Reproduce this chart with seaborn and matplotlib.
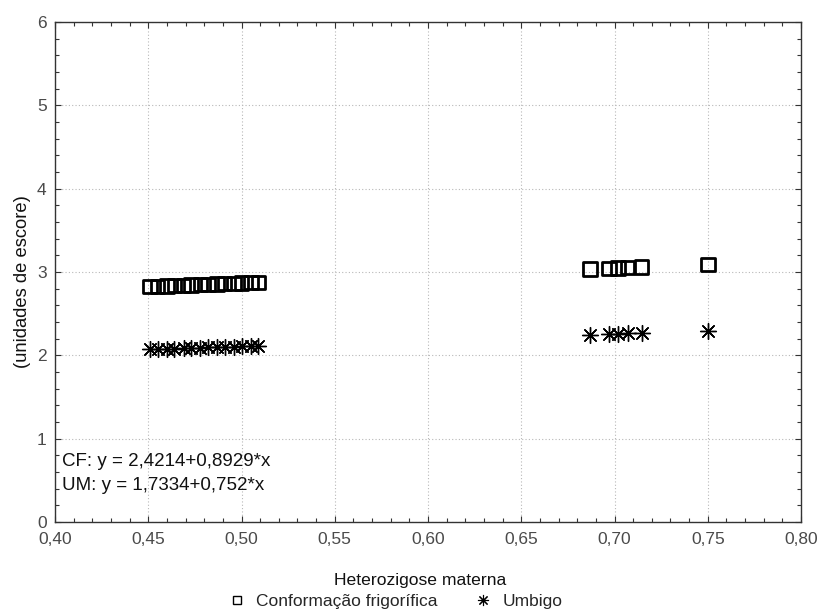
import matplotlib
matplotlib.use("Agg")
import matplotlib.pyplot as plt
from matplotlib.lines import Line2D
from matplotlib.ticker import MultipleLocator, FuncFormatter
import seaborn as sns
import pandas as pd

# ---- data ----
het_x = [0.451, 0.455, 0.460, 0.464, 0.469, 0.473, 0.478, 0.482, 0.487,
         0.491, 0.496, 0.500, 0.505, 0.509,
         0.687, 0.697, 0.702, 0.707, 0.7145, 0.750]
cf_y = [2.824, 2.828, 2.832, 2.836, 2.840, 2.844, 2.848, 2.852, 2.856,
        2.860, 2.864, 2.868, 2.872, 2.876,
        3.035, 3.044, 3.048, 3.053, 3.059, 3.091]
um_y = [2.072, 2.076, 2.079, 2.082, 2.086, 2.089, 2.093, 2.096, 2.100,
        2.103, 2.106, 2.110, 2.113, 2.116,
        2.250, 2.258, 2.261, 2.265, 2.271, 2.297]
series_names = ["Conformação frigorífica", "Umbigo"]
eq_texts = ["CF: y = 2,4214+0,8929*x", "UM: y = 1,7334+0,752*x"]
x_label = "Heterozigose materna"
y_label = "(unidades de escore)"

df = pd.DataFrame({
    "x": het_x + het_x,
    "y": cf_y + um_y,
    "serie": [series_names[0]] * len(het_x) + [series_names[1]] * len(het_x),
})

sns.set_style("white")
plt.rcParams["font.family"] = ["Liberation Sans", "DejaVu Sans"]

fig = plt.figure(figsize=(8.17, 6.14), dpi=100)
ax = fig.add_axes([55 / 817, 1 - 522 / 614, (801 - 55) / 817, 500 / 614])

asterisk = (8, 2, 0)
sns.scatterplot(data=df[df.serie == series_names[0]], x="x", y="y", ax=ax,
                marker="s", s=95, facecolor="none", edgecolor="black",
                linewidth=2.0, legend=False, zorder=3)
sns.scatterplot(data=df[df.serie == series_names[1]], x="x", y="y", ax=ax,
                marker=asterisk, s=130, color="black", edgecolor="black",
                linewidth=1.0, legend=False, zorder=3)

ax.set_xlim(0.40, 0.80)
ax.set_ylim(0, 6)
ax.xaxis.set_major_locator(MultipleLocator(0.05))
ax.xaxis.set_minor_locator(MultipleLocator(0.01))
ax.yaxis.set_major_locator(MultipleLocator(1))
ax.yaxis.set_minor_locator(MultipleLocator(0.2))
ax.xaxis.set_major_formatter(FuncFormatter(lambda v, p: f"{v:.2f}".replace(".", ",")))
ax.yaxis.set_major_formatter(FuncFormatter(lambda v, p: f"{v:.0f}"))

ax.grid(True, which="major", linestyle=(0, (1, 2)), color="#b8b8b8", linewidth=0.8)
ax.tick_params(which="both", direction="in", top=True, right=True,
               bottom=True, left=True, color="#333333")
ax.tick_params(axis="x", which="major", pad=7)
ax.tick_params(axis="y", which="major", pad=6)
ax.tick_params(which="major", length=4, width=0.8, labelsize=12.5,
               labelcolor="#4a4a4a")
ax.tick_params(which="minor", length=3, width=0.8)
for sp in ax.spines.values():
    sp.set_color("#333333")
    sp.set_linewidth(1.0)

ax.set_xlabel(x_label, fontsize=12.6, color="#111111", labelpad=19)
ax.set_ylabel(y_label, fontsize=13.2, color="#111111", labelpad=4)
ax.xaxis.label.set_x(0.49)
ax.yaxis.label.set_y(0.48)

ax.text(0.009, 0.12, eq_texts[0], transform=ax.transAxes, fontsize=13.5,
        color="#111111", va="center")
ax.text(0.009, 0.074, eq_texts[1], transform=ax.transAxes, fontsize=13.5,
        color="#111111", va="center")

handles = [
    Line2D([], [], linestyle="none", marker="s", markersize=6, markerfacecolor="none",
           markeredgecolor="black", markeredgewidth=1.0),
    Line2D([], [], linestyle="none", marker=asterisk, markersize=8, color="black",
           markeredgewidth=0.8),
]
fig.legend(handles, series_names, loc="center", bbox_to_anchor=(0.485, 1 - 601 / 614),
           ncol=2, frameon=False, fontsize=12.5, columnspacing=2.2,
           handlelength=0.8, handletextpad=0.7)

sns.despine(ax=ax, top=False, right=False)
fig.savefig("out.png", dpi=100)
